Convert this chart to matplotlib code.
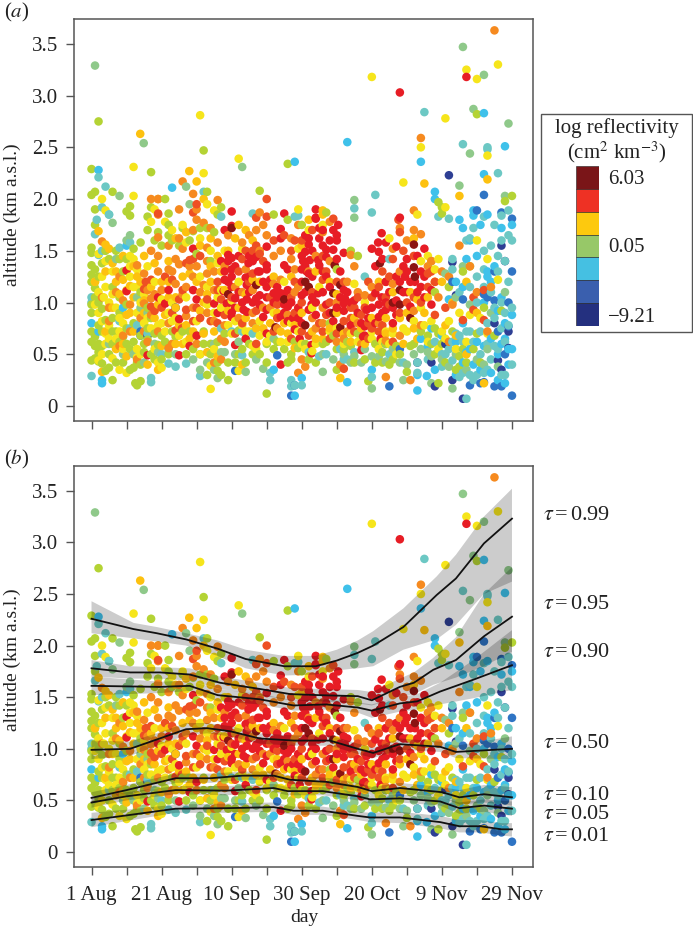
import matplotlib
matplotlib.use('Agg')
import matplotlib.pyplot as plt
from matplotlib.patches import Rectangle

plt.rcParams['font.family'] = ['Liberation Serif', 'DejaVu Serif']
plt.rcParams['mathtext.fontset'] = 'stix'

tick_days = [0, 10, 20, 30, 40, 50, 60, 70, 80, 90, 100, 110, 120]
tick_labels = ['1 Aug', '', '21 Aug', '', '10 Sep', '', '30 Sep', '', '20 Oct', '', '9 Nov', '', '29 Nov']
alt_ticks = [0, 0.5, 1.0, 1.5, 2.0, 2.5, 3.0, 3.5]

legend_colors = ['#7a1518', '#ee3124', '#fdc90e', '#97c868', '#45c0e2', '#3a5fae', '#24307f']

darkred = [(61,1.2),(62,1.15),(69.4,1.36),(69,1.09),(71,1.17),(69,.9),(61,.78),(71,.76),(82.3,1.38),(92,1.56),(92,1.34),
 (92.3,1.25),(88,1.12),(86,1.0),(88,.98),(91,.85),(52.5,.76),(47,1.17),(40,1.72),(39,1.08),(55,1.03)]
red = [(40,1.88),(40,1.74),(38,1.7),(29,1.52),(39,1.46),(40,1.43),(39,1.4),(40,1.25),(38,1.22),(40,1.15),(37.7,1.11),
 (41,1.04),(38.6,.99),(40,.9),(40,.86),(36,.9),(44.8,1.38),(47,1.44),(44,1.24),(44.3,1.17),(49,1.2),(50,1.15),(48,1.07),
 (44.3,1.03),(43.4,.93),(44.3,.91),(47,1.04),(50,.93),(49,.86),(52,1.09),(54,1.09),(56,1.12),(56,.96),(54,.86),(56,.82),
 (50,.7),(44,.65),(41,.59),(54,.4),(55,1.86),(54,1.71),(54,1.62),(50,1.54),(50,1.36),(50,1.32),(55,1.36),(56,1.32),
 (10,1.31),(10,1.11),(19,1.05),(22,1.12),(21,.99),(25,.84),(29,1.12),(30,1.03),(30,.68),(28,.58),(25,.49),(16,.49),(35,.99),
 (64,1.9),(64,1.82),(70.4,1.75),(61,1.65),(65,1.62),(70,1.65),(70,1.6),(62,1.56),(67,1.51),(69,1.51),(72,1.48),(61,1.49),
 (62.3,1.41),(60.4,1.4),(64.7,1.41),(61.4,1.3),(71,1.3),(67,1.25),(60,1.07),(64.7,1.09),(72.3,1.04),(72,.99),(62.8,.98),
 (62,.93),(64,.88),(59,.85),(58,.74),(59.4,.65),(62.8,.59),(62.8,.51),(69,.82),(81.8,1.58),(82.8,1.67),(87,1.54),(95,1.52),
 (82,1.49),(89,1.35),(89.5,1.25),(92.3,1.2),(81,1.09),(82.8,1.05),(82,.98),(97,1.12),(97,.98),(87,.88),(82,.86),(78.5,.93),
 (78,.77),(77.5,.67),(77,.54),(82.5,.65),(91,.96),(88,3.03),(107,3.18),(88,1.82),(64,1.81),(60,1.32),(62,1.28),
 (67,1.44),(65,1.36),(72,1.12),(74,1.0),(76,.9),(84,.93),(86,.8),(90,1.1),(94,1.3),(95,1.05),(84,1.2),
 (38,1.3),(39,1.2),(41,1.35),(42,1.1),(39.5,1.0),(41,.95),(43,1.0),(45,1.1),(46,1.0),(47.5,1.3),(45,1.45),(48,.98),(50,1.05),
 (52,1.0),(53,1.15),(55,1.08),(57,1.0),(55,.9),(57.5,.85),(60,1.45),(61,1.35),(63,1.5),(63,1.25),(65,1.72),(66,1.55),(68,1.6),
 (69,1.7),(70,1.42),(71,1.05),(70,.95),(68,.9),(67,.98),(64,1.0),(61,1.1),(59,.95),(60,.8),(73,1.1),(72,.92),(74,.78),(75,1.02),
 (77,.8),(78,.68),(79,.85),(80,.95),(81,.8),(83,.9),(84,1.0),(85,1.1),(86,.95),(87,1.02),(88,1.2),(89,1.1),(90,1.3),(91,1.2),
 (93,1.1),(94,1.15),(95,1.25),(93,1.45),(90,1.42),(87,1.25),(84,1.58),(83,1.42),(81,1.35),(80,1.52),(66,1.3),(68,1.15),(66,1.1),
 (63,1.05),(60,1.2),(62,1.62),(66,1.7),(40,1.32),(37,1.4),(42,1.45),(45,1.25),(46,1.4),(48,1.3),(51,1.22),(53,1.05),(55,.98)]
redorange = [(28,1.41),(27,1.38),(29,1.42),(31,1.45),(23,1.22),(15.5,1.2),(15,1.13),(17,.96),(25,1.03),(24,.73),(25.8,.75),
 (19,1.86),(47,1.82),(50,1.83),(50,2.0),(29,1.87),(30,1.95),(72,.36),(69,1.81),(67,1.3),(44,1.5),(46,1.5),(48,1.47),
 (42,1.3),(36,1.2),(36,1.12),(37,1.03),(43,1.42),(46,1.28),(52,1.6),(55,1.65),(57,1.5),(58,1.2),(57,1.05),(53,.98),(47,.92),
 (34,.82),(31,.85),(30,.95),(27,.93),(21,1.25),(18,.92),(17,1.22),(55,1.0),(58,.9),(60,1.0),(63,1.1),(66,1.22),(68,1.0),
 (72,.82),(74,.85),(75,.95),(77,.88),(79,.8),(80,.75),(82,.72),(83,.78),(79,1.2),(87.6,1.8),(88,1.68),(89,1.5),(92,1.45),
 (96,1.28),(86,1.42),(83,1.3),(84,1.05),(109,.93),(106,.83),(112,.83),(112,1.12),(109,1.05),(97,1.3),(101,.95),(98,.88),
 (65,.8),(66,.72),(60,.72),(62,.68),(67,.88),(57,.65),(86,.62),(47,1.55),(45,1.2),(49,1.4),(51,1.05),(53,.85),(43,.8),(40,1.05),
 (38,.88),(36,.8),(33,1.03),(26,1.12),(29,.82),(23,.9),(20,.95),(58,1.6),(60,1.6),(63,1.7),(66,1.45),(70,1.2),(72,1.2),(76,1.05),
 (78,.95),(80,1.05),(82,1.15),(85,.98),(88,.9),(90,1.0),(92,1.05),(94,1.0),(96,1.15),(98,1.2),(85,1.25),(74,.95),(70,.7),(68,.65),
 (75,.72),(79,.65),(41,.7),(47,.6),(52,.72)]
orange = [(3,1.59),(5,.82),(8,1.25),(11,.98),(15,.72),(19,2.0),(17,2.0),(26,2.17),(29,2.05),(36,1.99),(25,1.9),(30,1.9),
 (19,1.85),(48,1.87),(115,3.63),(94,2.59),(92,1.89),(71,.4),(84,.28),(91,.25),(59,.32),(13,1.36),(15,1.28),(19,1.3),(23,1.3),
 (25,1.37),(30,1.35),(33,1.4),(35,1.3),(38,1.35),(24,1.18),(27,1.15),(32,1.17),(26,1.08),(17,1.04),(20,1.12),(15,.99),
 (17,.88),(9,1.02),(7,1.1),(5,.95),(3,1.05),(11,.72),(9,.68),(14,.85),(22,.8),(19,.72),(27,.87),(29,.95),(33,.9),(35,.82),
 (38,.78),(37,.65),(42,.85),(46,.8),(43,1.1),(46,1.12),(52,1.18),(54,1.22),(48,1.5),(50,1.65),(47,1.7),(45,1.65),(49,1.75),
 (52,1.45),(57,1.62),(59,1.75),(57,1.42),(58,1.32),(54,1.5),(43,1.58),(39,1.65),(34,1.72),(30,1.8),(29,1.7),(32,1.77),
 (25,1.62),(22,1.55),(19,1.63),(17,1.5),(19,1.45),(26,1.52),(33,1.53),(36,1.58),(38,.62),(22,.56),(23,.6),(13,.45),(8,.58),
 (16,.62),(30,.6),(35,.42),(37,.45),(62,1.3),(68,1.78),(66,1.68),(68,1.4),(74,1.46),(75,1.35),(73,1.2),(76,1.1),(78,1.07),
 (80,1.15),(84,1.2),(86,1.52),(88,1.72),(90,1.6),(92,1.7),(94,1.66),(97,1.4),(100,1.3),(102,1.25),(105,1.55),(110,1.1),
 (114,1.15),(108,1.35),(103,.98),(94,.78),(88,.68),(84,.63),(77,.6),(73,.72),(70,.62),(63,.85),(66,.95),(70,1.0),(59,1.15),
 (60,.45),(61,.38),(64,1.45),(102,.62),(113,.72),(16,1.12),(18,1.08),(22,1.32),(24,1.42),(28,1.35),(29,1.25),(31,1.1),(35,1.12),
 (33,1.28),(41,1.15),(44,1.32),(46,.9),(49,.95),(51,.95),(53,.75),(56,.88),(58,1.1),(64,.75),(66,.8),(72,.65),(76,.8),(82,.8),
 (86,1.18),(88,1.3),(92,.92),(96,1.35),(99,1.05)]
gold = [(13.9,2.63),(27.9,2.27),(30,2.17),(32,2.0),(19,2.0),(105,2.03),(95,2.15),(113,2.19),(66,1.89),(71,.27),(112,.22),(101,.78),
 (2,1.69),(4,1.56),(5,1.52),(7,1.2),(9,1.45),(7,1.3),(11,1.16),(12,1.05),(14,1.2),(18,1.38),(20,1.2),(22,1.05),(24,.95),(26,1.25),
 (28,1.28),(30,1.2),(33,1.08),(34,1.2),(37,1.3),(39,1.5),(41,1.62),(42,1.75),(44,1.7),(46,1.6),(48,1.2),(52,1.25),(57,1.25),
 (53,.9),(51,.8),(47,.75),(44,.85),(39,.92),(35,.72),(32,.7),(28,.65),(26,.6),(20,.58),(18,.85),(15,.9),(11,.9),(9,.6),(7,.55),
 (3,.33),(10,.48),(16,.4),(19,.35),(24,.6),(33,.52),(36,.48),(43,.4),(1,1.2),(4,.72),(6,.95),(12,1.35),(15,1.45),(22,1.4),(24,1.62),
 (27,1.68),(31,1.55),(34,1.62),(62,1.8),(66,1.85),(60,1.55),(64,1.3),(68,1.2),(70,1.08),(72,.7),(75,.85),(77,.75),(80,.85),(84,.85),
 (86,1.1),(88,.85),(91,1.1),(92,1.62),(93,1.03),(95,.9),(98,1.2),(100,1.2),(103,1.0),(107,1.2),(110,.9),(104,.68),(107,.5),(89,.6),
 (93,.65),(66,.65),(63,.72),(58,.56),(56,.7),(4,1.3),(6,1.38),(8,1.08),(9,1.22),(10,.88),(12,.72),(13,1.25),(15,1.02),(17,1.15),(19,.98),
 (21,.88),(22,1.2),(24,1.05),(25,.78),(27,.78),(29,.72),(31,.92),(32,1.0),(34,1.35),(36,1.45),(38,1.12),(42,.95),(44,1.08),(46,1.22),(49,.75),
 (54,.72),(55,.8),(58,.78),(60,.9),(64,.65),(68,.75),(70,.9),(74,.62),(78,.6),(82,1.2),(84,.7),(86,.75),(90,.9),(92,.75),(96,1.05)]
yellow = [(31,2.81),(42,2.39),(12,2.31),(32,2.25),(3,2.0),(12,2.03),(4,1.89),(18,1.9),(33,1.95),(35,1.89),(59,1.9),(89,2.16),
 (80,3.18),(116,3.3),(110,3.16),(101,2.78),(94,2.5),(113,2.42),(101,1.92),(107,3.25),(2,1.47),(4,1.4),(6,1.3),(1,1.2),(3,1.25),(4,1.15),
 (3.5,1.05),(2,1.1),(5,1.0),(7,.95),(8,.85),(4,.7),(4,.6),(5,.65),(9,.8),(8,.72),(3,.5),(6,.46),(8,.35),(2,.44),(11,1.45),(12,1.42),
 (13,1.32),(11,1.25),(12,1.15),(14,1.0),(13,.9),(15,.8),(13,.55),(14,.5),(13,.47),(19,.42),(20,.37),(16,1.35),(18,1.2),(20,1.03),(22,.9),
 (23,1.0),(20,.8),(24,.85),(27,1.05),(30,.82),(33,.98),(36,1.05),(37,.95),(40,1.02),(42,1.2),(43,1.52),(38,1.5),(36,1.38),(34,1.5),(31,1.62),
 (27,1.58),(23,1.7),(21,1.78),(17,1.78),(26,1.75),(41,.82),(44,.72),(48,.68),(50,.62),(47,.55),(52,.9),(55,1.2),(57,.8),(60,.6),(63,.53),
 (35,.55),(31,.5),(34,.39),(42,.34),(34,.165),(10,.32),(66,1.75),(62,1.7),(59,1.52),(65,1.15),(70,.75),(74,.7),(68,.72),(63,.95),
 (78,1.0),(80,.65),(84,.72),(86,.7),(90,.72),(94,.95),(94,1.4),(96,1.45),(98,1.32),(99,1.42),(93,1.85),(75,1.18),(85,1.62),(82,.55),(87,.5),
 (100,.72),(104,.55),(107,.62),(111,.85),(113,.7),(116,1.22),(110,1.6),(113,1.42),(101,.65),(108,.88),(96,.62),(1,.98),(2,.9),(3,.82),(5,.78),
 (6,1.08),(7,.65),(9,.55),(10,1.12),(11,1.35),(13,1.15),(15,1.08),(16,.85),(17,.75),(18,.55),(19,.78),(21,.72),(23,.82),(25,.68),(27,.62),(29,1.25),
 (31,1.25),(33,1.15),(35,.9),(37,1.12),(39,.78),(40,.7),(43,.78),(45,.72),(46,.58),(48,.82),(51,.68),(54,.62),(56,.62),(59,.72),(61,.55),(64,.6),
 (72,.6),(76,.62),(80,.72),(83,.62),(85,.6),(89,.75),(92,.82),(95,.78),(97,.82),(99,.55),(102,.82),(105,.9)]
yellowgreen = [(2,2.75),(32,2.47),(17,2.26),(0,2.29),(0,2.04),(1,2.07),(6,2.07),(48,2.08),(33,2.07),(1,1.9),(11,1.93),(10,1.88),(11,1.84),
 (17,1.92),(16,1.83),(22,1.86),(37,1.92),(36,1.85),(52,1.85),(56,2.34),(67,1.87),(110,2.82),(118,1.98),(120,2.03),(99,1.97),(100,1.92),(100,1.86),
 (21,2.0),(0,1.53),(0,1.48),(0,1.36),(0,1.27),(1,1.32),(1,1.14),(0,.9),(0,.72),(1,.67),(0,.62),(1,.58),(2,.52),(1,.46),(0,.44),(2,.43),(3,.41),
 (5,.37),(4,.34),(6,.25),(13,.2),(12.5,.22),(14,.24),(2,1.0),(3,.94),(4,.83),(6,.85),(7,.72),(8,.9),(9,.67),(10,.6),(11,.55),(13,.42),(12,.37),
 (14,.4),(16,.64),(16,.75),(17,.85),(18,.7),(19,.59),(21,.62),(22,.5),(18,.45),(18,1.6),(19,1.68),(22,1.75),(26,1.72),(29,1.69),(33,1.72),(22,1.65),
 (25,1.55),(30,1.47),(34,1.4),(28,.72),(30,.68),(32,.72),(34,.6),(34,.5),(36,.42),(36,.34),(37,.3),(39,.25),(33,.3),(42,.73),(42,.5),(44,.42),
 (45,.6),(50,.6),(52,.55),(50,.42),(50,.12),(1,1.75),(6,1.15),(8,1.05),(10,.98),(14,1.1),(16,.95),(2,.78),(3,.72),(6,.6),(6,.72),(8,.62),(10,.75),
 (12,.8),(14,.68),(15,.6),(20,.68),(24,.67),(26,.72),(57,.5),(57,.45),(59,.56),(61,.6),(66,.6),(68,.8),(70,.55),(70,.35),(73,.62),(76,.7),(79,.24),
 (81,.6),(83,.52),(84,.6),(86,.45),(88,.5),(90,.33),(92,.6),(96,.68),(97,.6),(99,.7),(100,.6),(103,.72),(105,.48),(105,.38),(107,.42),(109,.55),
 (110,.7),(117,.92),(115,.68),(112,.95),(108,1.35),(60,1.75),(56,1.8),(74,1.5),(76,1.45),(70,1.32),(97,1.4),(98,1.1),(102,1.15),(106,1.3),(99,.22),(98,.5),
 (0,1.2),(1,1.05),(0,.98),(2,1.25),(3,1.38),(4,1.5),(5,1.42),(7,1.5),(8,1.42),(9,1.3),(10,1.42),(12,1.52),(14,1.58),(16,1.7),(20,1.55),(23,1.6),(28,1.6),
 (31,1.72),(35,1.68),(2,.6),(3,.58),(5,.5),(7,.42),(9,.42),(11,.35),(12,.62),(15,.52),(17,.5),(20,.45),(23,.72),(27,.5),(29,.55),(32,.6),(36,.62),(38,.7),(39,.42),
 (41,.42),(43,.55),(46,.5),(48,.5),(53,.62),(55,.55),(56,.42),(58,.62),(62,.45),(64,.42),(67,.62),(69,.68),(72,.55),(74,.58),(75,.42),(78,.45),(81,.42),(83,.42),(85,.4),
 (87,.58),(91,.58),(94,.72),(98,.75),(101,.42),(104,.35),(106,.55),(111,.42)]
green = [(14.9,2.54),(43,2.31),(27,2.12),(28,1.95),(6,1.77),(1,3.29),(8,2.03),(106,3.47),(112,3.2),(119,2.73),(108,2.44),(105,2.13),(75,1.99),(118,2.03),
 (109,2.87),(75,1.82),(66,.33),(80,.17),(89,.25),(103,.17),(97,.22),(14,.95),(7,1.42),(10,1.6),(11,1.65),(13,1.05),(16,.9),(18,.6),(19,.52),(31,.35),
 (35,.35),(36,.27),(44,.33),(49,.36),(31,.5),(35,.6),(38,.52),(42,.62),(47,.45),(52,.65),(66,.5),(69,.45),(72,.5),(75,.48),(78,.55),(80,.48),(84,.43),
 (86,.55),(90,.4),(94,.55),(97,.48),(104,.5),(110,.45),(113,.55),(114,.9),(108,.98),(104,1.05),(101,1.28),(118,1.1),(106,1.35),(116,.38),(112,.4),
 (5,.6),(9,.5),(12,.5),(15,.42),(24,.5),(29,.45),(33,.42),(37,.52),(41,.5),(74,.42),(77,.42),(82,.48),(88,.42),(92,.5),(96,.52),(100,.45),(102,.38),(107,.35)]
teal = [(2,2.21),(4,2.12),(32,2.07),(3,1.92),(5,1.85),(37,1.83),(46,1.86),(59,1.84),(95,2.84),(106,2.53),(113,2.5),(113,2.48),(116,2.25),(81,2.04),(75,1.91),
 (80,1.87),(99,1.83),(102,1.81),(112,1.83),(117,1.84),(119,1.89),(0,.29),(17,.27),(17,.23),(22,.41),(24,.38),(27,.41),(31,.29),(43,.49),(51,.32),(51,.25),
 (57,.19),(57,.25),(60,.2),(58,.2),(93,.32),(107,.07),(117,.3),(1,1.66),(1.5,1.8),(5,1.85),(11,1.58),(2,1.46),(3,1.5),(8,1.53),(0,1.0),(0,1.05),(8,.82),
 (11,.75),(13,.78),(16,.7),(20,.5),(22,.55),(37,.75),(40,.72),(43,.72),(46,.7),(47,.75),(62,.52),(65,.48),(67,.5),(72,.45),(71,.55),(73,.45),(75,.52),(80,.28),
 (85,.5),(89,.42),(93,.42),(96,.45),(100,.5),(102,.55),(103,.44),(104,.7),(106,.62),(108,.72),(110,.3),(112,.32),(114,.45),(116,.55),(118,.62),(119,.78),
 (112,1.5),(103,1.42),(103,1.32),(107,1.6),(108,1.62),(109,1.72),(115,1.75),(116,1.45),(117,1.6),(119,1.65),(120,1.6),(118,1.4),(112,1.15),(114,1.1),(117,1.0),
 (118,.9),(115,.85),(117,.75),(113,.8),(111,.5),(100,.38),(106,.32),(108,.3),(58,1.83),(85,1.42),(78,1.25),(98,.62),(101,.5),(103,.62),(105,.68),(107,.72),(109,.62),
 (111,.72),(113,.6),(115,.58),(110,1.0),(105,1.1),(108,1.15),(110,1.25),(112,1.32),(114,1.55),(116,1.3),(119,1.2),(120,.95),(115,.95),(118,.3),(120,.4),(113,.35),(109,.25),(105,.28)]
cyan = [(2,2.28),(23,2.11),(58,2.36),(73,2.55),(94,2.36),(112,2.83),(118,2.51),(112,2.24),(98,2.07),(98,2.0),(109,1.89),(109,1.84),(58,.1),(3,.22),(3,.25),(0,.8),
 (2,.72),(10,1.55),(9,.95),(60,.27),(80,.35),(95.7,.29),(93,.15),(93,.3),(73,.23),(52,.35),(100,.68),(104,.62),(106,.8),(97,.75),(102,1.03),(104,1.2),(107,.52),
 (110,.62),(112,.58),(114,.65),(117,.6),(119,.55),(118,.65),(118,.22),(116,.25),(109,.4),(106,.42),(110,1.45),(113,1.3),(113,1.25),(115,1.35),(117,1.05),(112,1.0),
 (105,1.8),(108,1.6),(106,1.72),(111,1.75),(113,1.85),(117,1.72),(120,1.75),(98,.35),(96,.58),(94,.65),(116,.92),(120,.88),(108,.55),(111,.35),(114,.32),(104,.3),
 (116,.5),(119,.4),(120,.55),(118,.8),(114,1.2),(107,1.42),(106,1.15)]
blue = [(112,2.04),(110,1.89),(117,1.87),(120,1.81),(15,1.0),(14,.72),(14,.68),(41,.34),(53,.49),(57,.1),(58,.2),(85,.19),(108,.2),(111,.22),(115,.19),(117,.19),(120,.1),
 (112,.23),(88,.55),(84,.6),(106,1.03),(112,1.08),(115,1.3),(120,1.3),(119,1.0),(115,1.02),(119,.77),(116,.72),(113,1.05),(118,.5),(103,1.2)]
navy = [(102,2.23),(24,.95),(16,.68),(98,.19),(106,.07),(119,.56),(115,.8),(103,1.39),(104,1.07),(117,1.55),(118,1.4),(93,.42),(97,.42),(119,.72),(101,.6),(116,.44),(117,.35),(103,.25)]

c99_days = [0,12,18.6,27,36,44,55,64,70,76,80.4,89,98.5,104,112,120]
c99_mid = [2.26,2.16,2.12,2.06,1.97,1.87,1.8,1.8,1.855,1.93,2.0,2.18,2.49,2.65,2.99,3.23]
c99_hi = [2.43,2.22,2.18,2.12,2.05,1.96,1.9,1.9,1.96,2.05,2.14,2.36,2.67,2.88,3.25,3.52]
c99_lo = [2.12,2.07,2.04,2.0,1.9,1.78,1.71,1.72,1.76,1.78,1.8,1.96,2.06,2.2,2.5,2.62]
c95_days = [0,11,19.6,28,36.7,48,56.7,65,76,80,88,92,97.5,104,112,120]
c95_mid = [1.78,1.74,1.74,1.72,1.64,1.58,1.53,1.52,1.51,1.47,1.6,1.64,1.765,1.86,2.09,2.28]
c95_hi = [1.86,1.8,1.79,1.78,1.7,1.64,1.59,1.58,1.57,1.55,1.68,1.74,1.88,2.08,2.5,2.76]
c95_lo = [1.7,1.68,1.68,1.66,1.58,1.52,1.47,1.46,1.44,1.42,1.5,1.53,1.62,1.69,1.8,1.94]
c90_days = [0,19.6,28,36,48,57.7,67,76,80,88,93,99.5,109,120]
c90_mid = [1.61,1.6,1.61,1.52,1.48,1.42,1.43,1.4,1.37,1.44,1.46,1.555,1.67,1.81]
c90_hi = [1.7,1.65,1.66,1.58,1.53,1.47,1.48,1.45,1.43,1.5,1.53,1.64,1.86,2.15]
c90_lo = [1.52,1.54,1.56,1.46,1.43,1.37,1.38,1.35,1.3,1.36,1.38,1.43,1.49,1.57]
c50_days = [0,11,18.6,27,33,39.6,48,57.7,68,76,80.4,88,99.5,104,120]
c50_mid = [.99,1.0,1.09,1.19,1.2,1.17,1.1,1.08,1.08,1.0,.96,1.045,1.02,.97,1.0]
c50_hi = [1.08,1.07,1.15,1.25,1.25,1.22,1.15,1.13,1.13,1.05,1.01,1.1,1.07,1.03,1.12]
c50_lo = [.9,.93,1.03,1.13,1.15,1.12,1.05,1.03,1.03,.95,.91,.99,.97,.91,.9]
c10_days = [0,10,24,34,43,52,56.7,67,76,80,88,100,105,112,120]
c10_mid = [.525,.6,.715,.715,.74,.74,.7,.68,.63,.59,.62,.58,.53,.56,.53]
c10_hi = [.58,.65,.76,.76,.78,.78,.74,.72,.67,.63,.67,.63,.6,.65,.63]
c10_lo = [.47,.55,.67,.67,.7,.7,.66,.64,.59,.55,.57,.53,.46,.48,.45]
c05_days = [0,10,24,38.6,52,56,66,76,79.5,88,99.5,105,112,120]
c05_mid = [.48,.54,.6,.595,.62,.59,.59,.54,.51,.52,.49,.425,.45,.42]
c05_hi = [.53,.58,.64,.64,.66,.63,.63,.58,.55,.56,.53,.48,.51,.49]
c05_lo = [.43,.5,.56,.55,.58,.55,.55,.5,.47,.48,.45,.37,.39,.35]
c01_days = [0,10,24,38.6,52,57.7,66,76,79.5,88,99.5,105,111,117,120]
c01_mid = [.31,.355,.42,.425,.435,.4,.4,.35,.335,.335,.29,.25,.25,.22,.22]
c01_hi = [.38,.41,.46,.47,.48,.44,.44,.39,.38,.39,.35,.31,.31,.28,.28]
c01_lo = [.24,.3,.38,.38,.39,.36,.36,.31,.29,.28,.23,.19,.19,.16,.15]

tau_labels = ['0.99', '0.95', '0.90', '0.50', '0.10', '0.05', '0.01']
tau_label_alts = [3.26, 2.40, 1.93, 1.05, 0.55, 0.36, 0.15]

point_sets = [(navy,'#2e3f94'),(blue,'#2f74c4'),(cyan,'#3fc1ea'),(teal,'#6cc8c4'),(green,'#8fc98a'),(yellowgreen,'#b4d334'),
              (yellow,'#f6e51b'),(gold,'#fdc10f'),(orange,'#f68a1f'),(redorange,'#ee4f23'),(red,'#e71d25'),(darkred,'#8b1412')]
rows = []
for pts, col in point_sets:
    rows += [(d, a, col) for d, a in pts]
rows.sort(key=lambda r: r[0])
xs = [r[0] for r in rows]
ys = [r[1] for r in rows]
cs = [r[2] for r in rows]

W, H = 693, 930
fig = plt.figure(figsize=(W/100, H/100), dpi=100)

def panel(top, bottom):
    return fig.add_axes([74/W, 1-bottom/H, 459/W, (bottom-top)/H])

ax_a = panel(19, 421)
ax_b = panel(466, 867)
GR = '#555555'
for ax in (ax_a, ax_b):
    ax.scatter(xs, ys, s=38, c=cs, linewidths=0, zorder=2)
    ax.set_xlim(-5, 126)
    ax.set_ylim(-0.145, 3.74)
    ax.set_yticks(alt_ticks)
    ax.set_yticklabels(['0' if v == 0 else '%.1f' % v for v in alt_ticks], fontsize=15, color='#222222')
    ax.set_xticks(tick_days)
    ax.tick_params(length=5.5, width=1.0, color=GR, pad=6)
    for s in ax.spines.values():
        s.set_color(GR); s.set_linewidth(1.1)
ax_a.set_xticklabels([])
ax_b.set_xticklabels(tick_labels, fontsize=15, color='#222222')
ax_b.tick_params(axis='x', pad=8)

curves = [(c99_days,c99_mid,c99_lo,c99_hi),(c95_days,c95_mid,c95_lo,c95_hi),(c90_days,c90_mid,c90_lo,c90_hi),
          (c50_days,c50_mid,c50_lo,c50_hi),(c10_days,c10_mid,c10_lo,c10_hi),(c05_days,c05_mid,c05_lo,c05_hi),(c01_days,c01_mid,c01_lo,c01_hi)]
for d, m, lo, hi in curves:
    ax_b.fill_between(d, lo, hi, facecolor='black', alpha=0.2, linewidth=0, zorder=3)
for d, m, lo, hi in curves:
    ax_b.plot(d, m, color='#111111', lw=1.3, zorder=4)

for t, a in zip(tau_labels, tau_label_alts):
    ax_b.annotate(r'$\tau\,$=$\,$' + t, xy=(1, a), xycoords=('axes fraction', 'data'), xytext=(7, 0),
                  textcoords='offset points', va='center', ha='left', fontsize=16, color='#222222', annotation_clip=False)

for yc in (215, 660):
    fig.text(12/W, 1-yc/H, 'altitude (km a.s.l.)', rotation=90, va='center', ha='center', fontsize=14, color='#222222')
fig.text(304/W, 1-917/H, 'day', ha='center', va='center', fontsize=14, color='#222222')
fig.text(4/W, 1-12/H, r'($\mathit{a}$)', ha='left', va='center', fontsize=15, color='#222222')
fig.text(4/W, 1-459/H, r'($\mathit{b}$)', ha='left', va='center', fontsize=15, color='#222222')

fig.add_artist(Rectangle((541/W, 1-332/H), 151/W, 218/H, transform=fig.transFigure, fc='white', ec=GR, lw=1.0, zorder=0))
fig.text(617/W, 1-128/H, 'log reflectivity', ha='center', va='center', fontsize=15, color='#222222')
fig.text(617/W, 1-152/H, r'(cm$^{2}$ km$^{-3}$)', ha='center', va='center', fontsize=15, color='#222222')
ax_leg = fig.add_axes([576/W, 1-326/H, 23/W, 160/H], zorder=5)
for i, c in enumerate(legend_colors):
    ax_leg.bar(0, 1, bottom=len(legend_colors)-1-i, width=1, color=c, edgecolor='#222222', linewidth=0.4)
ax_leg.set_xlim(-.5, .5); ax_leg.set_ylim(0, len(legend_colors)); ax_leg.axis('off')
for lab, yc in [('6.03', 179), ('0.05', 247), ('\u22129.21', 317)]:
    fig.text(608/W, 1-yc/H, lab, ha='left', va='center', fontsize=15, color='#222222')

fig.savefig('out.png', dpi=100)
